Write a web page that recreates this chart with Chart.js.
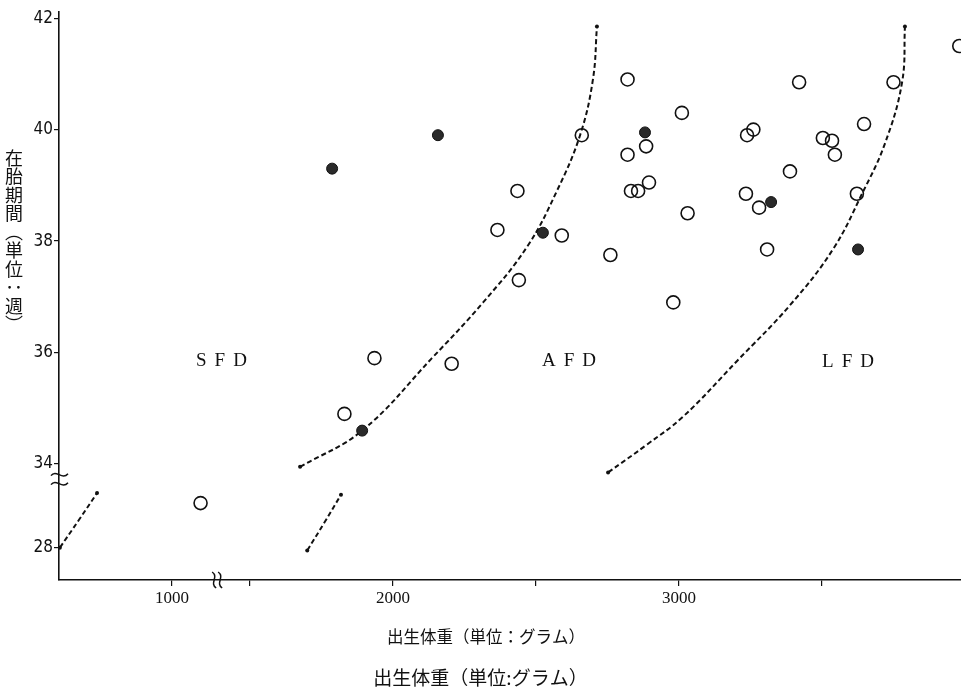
<!DOCTYPE html>
<html>
<head>
<meta charset="utf-8">
<script src="https://cdn.jsdelivr.net/npm/chart.js@4.4.1/dist/chart.umd.min.js"></script>
<style>
  body { margin: 0; background: #fff; }
  #wrap { position: relative; width: 961px; height: 687px; }
  #ytitle {
    position: absolute; left: 5px; top: 149px;
    writing-mode: vertical-rl; text-orientation: mixed;
    font: 18px 'Noto Sans CJK JP', sans-serif; line-height: 1;
    letter-spacing: 0.5px; color: #111;
  }
</style>
</head>
<body>
<div id="wrap">
  <canvas id="chart" width="961" height="687"></canvas>
  <div id="ytitle">在胎期間（単位：週）</div>
</div>
<script>
// 出生体重 (g) と 在胎期間 (週)
const openWeight = [1100, 1830, 1935, 2205, 2435, 2365, 2590, 2440, 2660, 2820,
                    3010, 2885, 2820, 2895, 2832, 2857, 3030, 2760, 3420, 3750,
                    3980, 3260, 3238, 3647, 3503, 3535, 3545, 3388, 3234, 3280,
                    3622, 3308, 2980];
const openWeeks = [28.8, 34.9, 35.9, 35.8, 38.9, 38.2, 38.1, 37.3, 39.9, 40.9,
                   40.3, 39.7, 39.55, 39.05, 38.9, 38.9, 38.5, 37.75, 40.85, 40.85,
                   41.5, 40.0, 39.9, 40.1, 39.85, 39.8, 39.55, 39.25, 38.85, 38.6,
                   38.85, 37.85, 36.9];
const filledWeight = [1787, 2157, 2524, 1892, 2881, 3322, 3626];
const filledWeeks = [39.3, 39.9, 38.15, 34.6, 39.95, 38.7, 37.85];

// 境界線
const curveAWeight = [1675, 1892, 2136, 2315, 2469, 2573, 2654, 2699, 2713];
const curveAWeeks = [33.95, 34.6, 35.9, 36.9, 37.9, 38.9, 39.9, 40.9, 41.85];
const curveALowWeight = [1700, 1760, 1818];
const curveALowWeeks = [27.95, 28.45, 28.95];
const curveLeftWeight = [608, 675, 738];
const curveLeftWeeks = [28.0, 28.5, 28.98];
const curveBWeight = [2752, 2888, 3014, 3203, 3388, 3538, 3640, 3720, 3780, 3790];
const curveBWeeks = [33.85, 34.35, 34.85, 35.85, 36.85, 37.85, 38.85, 39.75, 40.85, 41.85];

const xTickValues = [1000, 1500, 2000, 2500, 3000, 3500];
const xTickLabels = ['1000', '', '2000', '', '3000', ''];
const yTickValues = [28, 34, 36, 38, 40, 42];
const yTickLabels = ['28', '34', '36', '38', '40', '42'];

// axis breaks (省略部分)
const toDispX = w => (w < 1270 ? w + 227 : w);
const toDispY = k => (k < 31 ? k + 4.5 : k);
const pt = (w, k) => ({ x: toDispX(w), y: toDispY(k) });
const pts = (ws, ks) => ws.map((w, i) => pt(w, ks[i]));

const endDot = c => (c.dataIndex === 0 || c.dataIndex === c.dataset.data.length - 1) ? 2 : 0;
const curve = data => ({
  type: 'line', data: data,
  borderColor: '#111', borderWidth: 2, borderDash: [5, 3],
  tension: 0.4, fill: false,
  pointRadius: endDot, pointBackgroundColor: '#111', pointBorderWidth: 0
});

const decorations = {
  id: 'decorations',
  afterDraw(chart, args, opts) {
    const { ctx, chartArea, scales: { x, y } } = chart;
    ctx.save();
    ctx.fillStyle = '#111';
    ctx.textAlign = 'center';
    ctx.textBaseline = 'middle';
    // x axis title
    ctx.font = "16.5px 'Noto Sans CJK JP', sans-serif";
    ctx.fillText(opts.xTitle, 486, 637);
    ctx.font = "19px 'Liberation Serif', serif";
    ctx.letterSpacing = '8px';
    opts.labels.forEach(l => {
      ctx.fillText(l.text, x.getPixelForValue(toDispX(l.x)) + 4, y.getPixelForValue(toDispY(l.y)));
    });
    ctx.letterSpacing = '0px';
    ctx.strokeStyle = '#111';
    ctx.lineWidth = 1.5;
    // y break
    const yb = y.getPixelForValue(33.72), x0 = chartArea.left;
    [-5, 4].forEach(o => {
      ctx.beginPath();
      ctx.moveTo(x0 - 8, yb + o + 1);
      ctx.bezierCurveTo(x0 - 3, yb + o - 6, x0 + 3, yb + o + 6, x0 + 9, yb + o - 1);
      ctx.stroke();
    });
    // x break
    const xb = x.getPixelForValue(1385), y0 = chartArea.bottom;
    [-3, 3].forEach(o => {
      ctx.beginPath();
      ctx.moveTo(xb + o - 2, y0 - 8);
      ctx.bezierCurveTo(xb + o + 5, y0 - 3, xb + o - 5, y0 + 3, xb + o + 2, y0 + 8);
      ctx.stroke();
    });
    ctx.restore();
  }
};

new Chart(document.getElementById('chart').getContext('2d'), {
  type: 'scatter',
  data: {
    datasets: [
      {
        label: 'open', data: pts(openWeight, openWeeks),
        pointRadius: 6.5, pointBorderWidth: 1.6,
        borderColor: '#111', backgroundColor: 'rgba(0,0,0,0)'
      },
      {
        label: 'filled', data: pts(filledWeight, filledWeeks),
        pointRadius: 5.5, pointBorderWidth: 1,
        borderColor: '#111', backgroundColor: '#2a2a2a'
      },
      curve(pts(curveAWeight, curveAWeeks)),
      curve(pts(curveALowWeight, curveALowWeeks)),
      curve(pts(curveLeftWeight, curveLeftWeeks)),
      curve(pts(curveBWeight, curveBWeeks))
    ]
  },
  plugins: [decorations],
  options: {
    responsive: false,
    animation: false,
    layout: { autoPadding: false, padding: { top: 12, left: 0, right: 0, bottom: 0 } },
    scales: {
      x: {
        type: 'linear', min: 832, max: 3986,
        afterBuildTicks: s => { s.ticks = xTickValues.map(v => ({ value: toDispX(v) })); },
        afterFit: s => { s.height = 84; },
        ticks: {
          callback: (v, i) => xTickLabels[i],
          autoSkip: false, maxRotation: 0, padding: 2, color: '#111',
          font: { family: "'Liberation Serif', serif", size: 17 }
        },
        grid: { drawOnChartArea: false, tickLength: 6, color: '#111', lineWidth: 1.2 },
        border: { color: '#111', width: 1.6 }
      },
      y: {
        type: 'linear', min: 31.92, max: 42.11,
        afterBuildTicks: s => { s.ticks = yTickValues.map(v => ({ value: toDispY(v) })); },
        afterFit: s => { s.width = 59; },
        ticks: {
          callback: (v, i) => yTickLabels[i],
          autoSkip: false, padding: 1, color: '#111',
          font: { family: "'Liberation Sans Narrow', 'DejaVu Sans Condensed', 'Liberation Sans', sans-serif", size: 17 }
        },
        grid: { drawOnChartArea: false, tickLength: 5, color: '#111', lineWidth: 1.2 },
        border: { color: '#111', width: 1.6 }
      }
    },
    plugins: {
      legend: { display: false },
      tooltip: { enabled: false },
      title: {
        display: true, position: 'bottom', text: '出生体重（単位:グラム）', color: '#111',
        font: { family: "'Noto Sans CJK JP', sans-serif", size: 19, weight: 'normal', lineHeight: 1 },
        padding: { top: 4, bottom: 0 }
      },
      decorations: {
        xTitle: '出生体重（単位：グラム）',
        labels: [
          { text: 'SFD', x: 1400, y: 35.85 },
          { text: 'AFD', x: 2615, y: 35.85 },
          { text: 'LFD', x: 3591, y: 35.83 }
        ]
      }
    }
  }
});
</script>
</body>
</html>
